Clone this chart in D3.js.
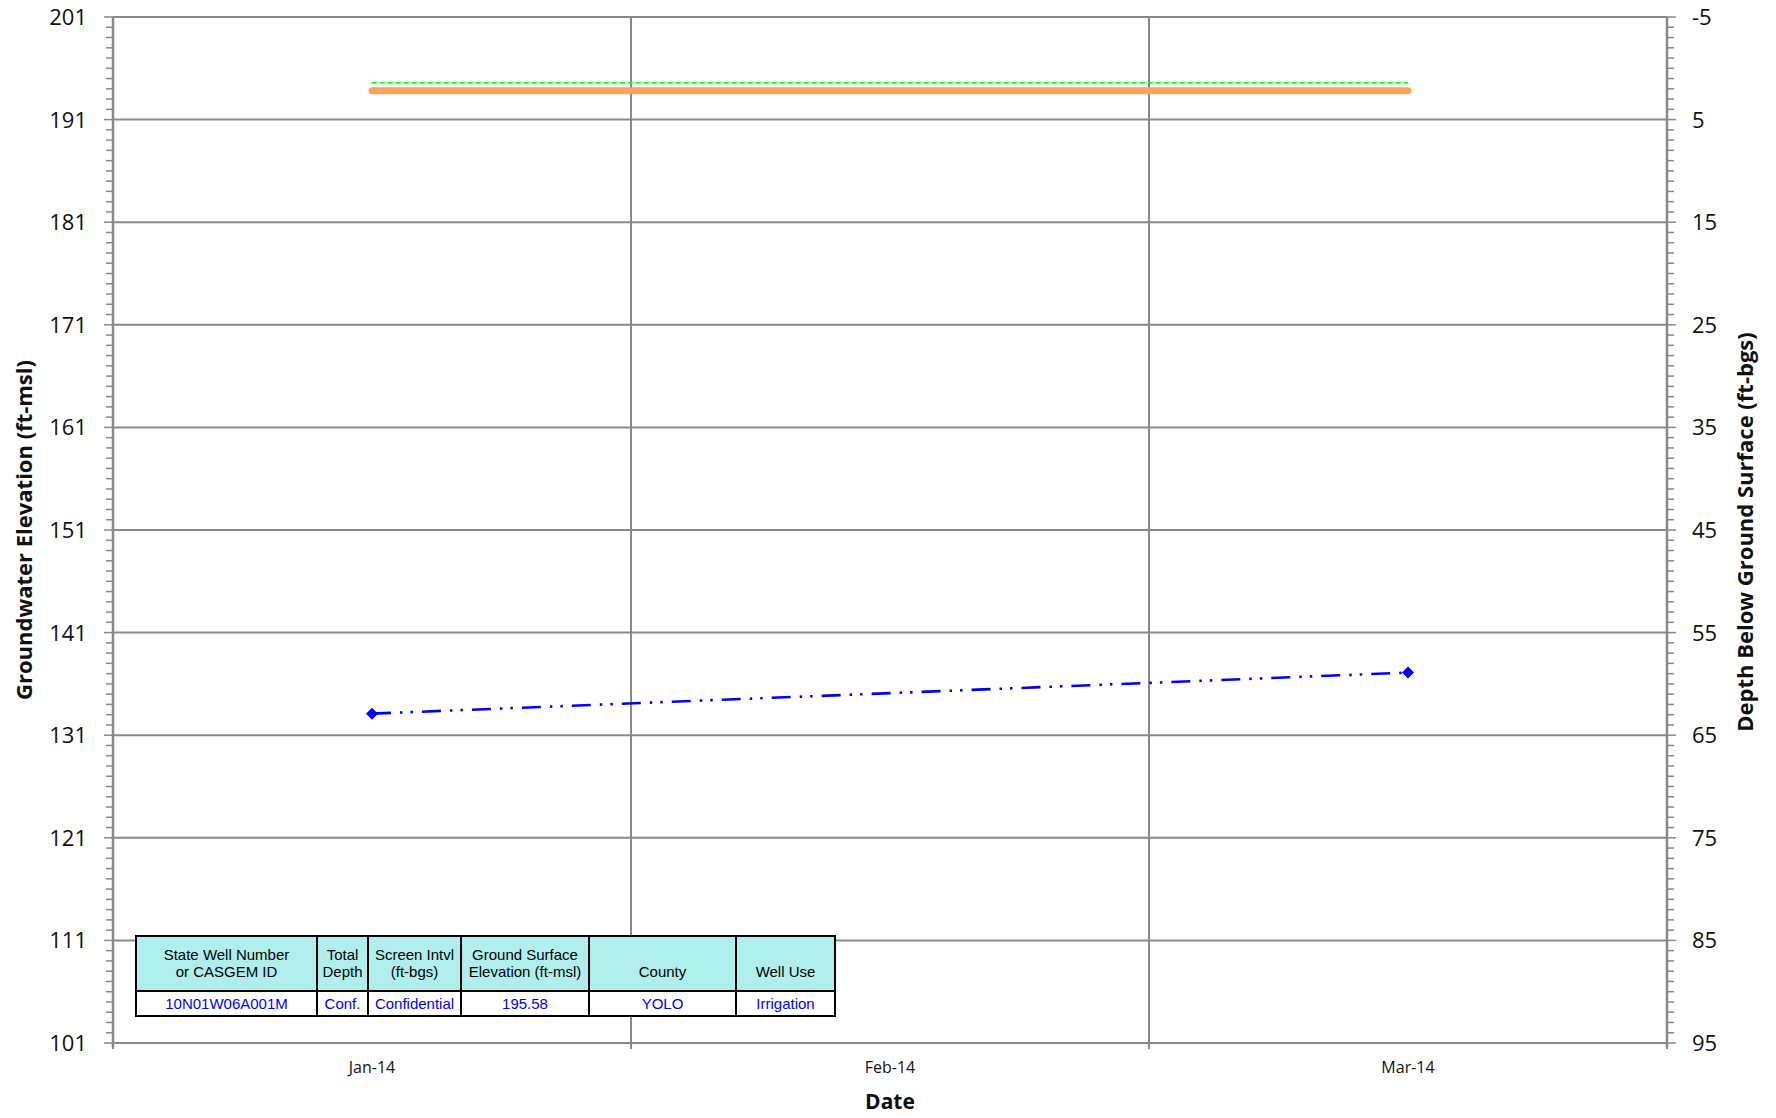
<!DOCTYPE html>
<html>
<head>
<meta charset="utf-8">
<script src="https://cdn.jsdelivr.net/npm/d3@7"></script>
<style>
  html, body { margin: 0; padding: 0; background: #fff; }
  svg { display: block; }
</style>
</head>
<body>
<div id="chart"></div>
<script>
// Chart data
const months = ["Jan-14", "Feb-14", "Mar-14"];
const elevTicks = [101, 111, 121, 131, 141, 151, 161, 171, 181, 191, 201];
const depthTicks = [95, 85, 75, 65, 55, 45, 35, 25, 15, 5, -5];

const gwMonths = ["Jan-14", "Mar-14"];
const gwElevation = [133.1, 137.1];

const refMonths = ["Jan-14", "Mar-14"];
const orangeElevation = [193.8, 193.8];
const greenElevation = [194.6, 194.6];

const tableHeaders = [
  ["State Well Number", "or CASGEM ID"],
  ["Total", "Depth"],
  ["Screen Intvl", "(ft-bgs)"],
  ["Ground Surface", "Elevation (ft-msl)"],
  ["", "County"],
  ["", "Well Use"]
];
const tableValues = ["10N01W06A001M", "Conf.", "Confidential", "195.58", "YOLO", "Irrigation"];
const tableColWidths = [181, 51, 93, 128, 147, 99];

const W = 1776, H = 1118;
const margin = { top: 17, right: 109, bottom: 75, left: 113 };
const plotW = W - margin.left - margin.right;
const plotH = H - margin.top - margin.bottom;
const grid = "#898989";
const tickFont = "'Open Sans', 'DejaVu Sans', sans-serif";

const svg = d3.select("#chart").append("svg")
  .attr("width", W).attr("height", H);

const g = svg.append("g").attr("transform", `translate(${margin.left},${margin.top})`);

const x = d3.scaleBand().domain(months).range([0, plotW]).padding(0);
const y = d3.scaleLinear().domain([101, 201]).range([plotH, 0]);
const y2 = d3.scaleLinear().domain([95, -5]).range([plotH, 0]);
const xc = m => x(m) + x.bandwidth() / 2;

// Horizontal gridlines
g.selectAll(".hgrid").data(elevTicks).enter().append("line")
  .attr("x1", 0).attr("x2", plotW)
  .attr("y1", d => y(d)).attr("y2", d => y(d))
  .attr("stroke", grid).attr("stroke-width", 2);

// Vertical gridlines at month boundaries
const bounds = months.map(m => x(m)).concat([plotW]);
g.selectAll(".vgrid").data(bounds).enter().append("line")
  .attr("x1", d => d).attr("x2", d => d)
  .attr("y1", 0).attr("y2", plotH + 6)
  .attr("stroke", grid).attr("stroke-width", 2);

// Left axis
const minor = d3.range(101, 202, 1);
g.selectAll(".lminor").data(minor).enter().append("line")
  .attr("x1", d => (d - 101) % 10 === 0 ? -9 : -7).attr("x2", 0)
  .attr("y1", d => y(d)).attr("y2", d => y(d))
  .attr("stroke", grid).attr("stroke-width", 1.5);
g.append("line").attr("x1", 0).attr("x2", 0).attr("y1", 0).attr("y2", plotH + 4)
  .attr("stroke", grid).attr("stroke-width", 2.5);
g.selectAll(".ltick").data(elevTicks).enter().append("text")
  .attr("x", -26).attr("y", d => y(d)).attr("dy", "0.36em")
  .attr("text-anchor", "end").attr("font-family", tickFont).attr("font-size", 22)
  .attr("fill", "#111").text(d => d);

// Right axis
g.selectAll(".rminor").data(minor).enter().append("line")
  .attr("x1", plotW).attr("x2", d => (d - 101) % 10 === 0 ? plotW + 9 : plotW + 7)
  .attr("y1", d => y(d)).attr("y2", d => y(d))
  .attr("stroke", grid).attr("stroke-width", 1.5);
g.append("line").attr("x1", plotW).attr("x2", plotW).attr("y1", 0).attr("y2", plotH + 4)
  .attr("stroke", grid).attr("stroke-width", 2.5);
g.selectAll(".rtick").data(depthTicks).enter().append("text")
  .attr("x", plotW + 25).attr("y", d => y2(d)).attr("dy", "0.36em")
  .attr("text-anchor", "start").attr("font-family", tickFont).attr("font-size", 22)
  .attr("fill", "#111").text(d => d);

// Bottom axis labels
g.selectAll(".xtick").data(months).enter().append("text")
  .attr("x", d => xc(d)).attr("y", plotH + 24).attr("dy", "0.36em")
  .attr("text-anchor", "middle").attr("font-family", tickFont).attr("font-size", 16)
  .attr("fill", "#111").text(d => d);

// Axis titles
svg.append("text")
  .attr("x", margin.left + plotW / 2).attr("y", 1101).attr("dy", "0.36em")
  .attr("text-anchor", "middle").attr("font-family", tickFont).attr("font-size", 21)
  .attr("font-weight", "bold").attr("fill", "#111").text("Date");
svg.append("text")
  .attr("transform", `translate(24,${margin.top + plotH / 2}) rotate(-90)`)
  .attr("dy", "0.36em").attr("text-anchor", "middle")
  .attr("font-family", tickFont).attr("font-size", 22).attr("font-weight", "bold")
  .attr("fill", "#111").text("Groundwater Elevation (ft-msl)");
svg.append("text")
  .attr("transform", `translate(1745,${margin.top + plotH / 2 + 2}) rotate(-90)`)
  .attr("dy", "0.36em").attr("text-anchor", "middle")
  .attr("font-family", tickFont).attr("font-size", 22).attr("font-weight", "bold")
  .attr("fill", "#111").text("Depth Below Ground Surface (ft-bgs)");

// Reference lines
const line = d3.line().x(d => xc(d[0])).y(d => y(d[1]));
g.append("path")
  .attr("d", line(d3.zip(refMonths, orangeElevation)))
  .attr("fill", "none").attr("stroke", "#F5A561").attr("stroke-width", 7)
  .attr("stroke-linecap", "round");
g.append("path")
  .attr("d", line(d3.zip(refMonths, greenElevation)))
  .attr("fill", "none").attr("stroke", "#00FF00").attr("stroke-width", 1.5)
  .attr("stroke-dasharray", "5,3");

// Groundwater elevation series
const gw = d3.zip(gwMonths, gwElevation);
g.append("path")
  .attr("d", line(gw))
  .attr("fill", "none").attr("stroke", "#0000FF").attr("stroke-width", 2.6)
  .attr("stroke-dasharray", "19,9,2.5,8,2.5,9");
g.selectAll(".pt").data(gw).enter().append("path")
  .attr("transform", d => `translate(${xc(d[0])},${y(d[1])}) rotate(45)`)
  .attr("d", d3.symbol().type(d3.symbolSquare).size(72))
  .attr("fill", "#0000FF");

// Info table
const tX = 136, tY = 936, headH = 55, rowH = 25;
const tableFont = "'Liberation Sans Narrow', 'Liberation Sans', Arial, sans-serif";
const colX = tableColWidths.reduce((acc, w) => { acc.push(acc[acc.length - 1] + w); return acc; }, [tX]);
const tbl = svg.append("g");
tableColWidths.forEach((w, i) => {
  tbl.append("rect").attr("x", colX[i]).attr("y", tY).attr("width", w).attr("height", headH)
    .attr("fill", "#B0EEEE").attr("stroke", "#000").attr("stroke-width", 2);
  tbl.append("rect").attr("x", colX[i]).attr("y", tY + headH).attr("width", w).attr("height", rowH)
    .attr("fill", "#fff").attr("stroke", "#000").attr("stroke-width", 2);
  tableHeaders[i].forEach((t, j) => {
    if (!t) return;
    tbl.append("text")
      .attr("x", colX[i] + w / 2).attr("y", tY + 19 + j * 17).attr("dy", "0.36em")
      .attr("text-anchor", "middle").attr("font-family", tableFont).attr("font-size", 15)
      .attr("fill", "#000").text(t);
  });
  tbl.append("text")
    .attr("x", colX[i] + w / 2).attr("y", tY + headH + rowH / 2).attr("dy", "0.36em")
    .attr("text-anchor", "middle").attr("font-family", tableFont).attr("font-size", 15)
    .attr("fill", "#0000FF").text(tableValues[i]);
});
</script>
</body>
</html>
